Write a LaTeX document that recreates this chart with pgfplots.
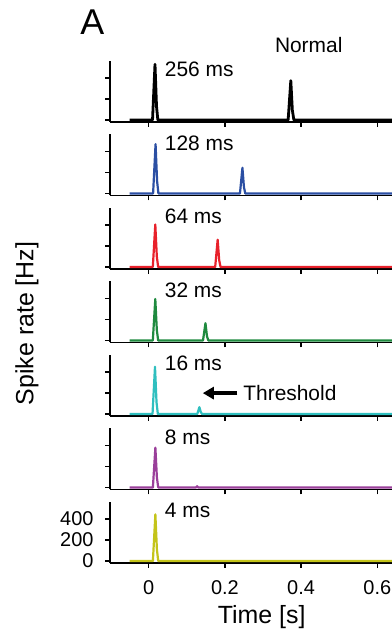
\documentclass[border=0pt]{standalone}
\usepackage{pgfplots}
\pgfplotsset{compat=1.18}
\usepackage{fontspec}
\setmainfont{Liberation Sans}
\usetikzlibrary{arrows.meta}
\definecolor{cblue}{RGB}{43,79,163}
\definecolor{cred}{RGB}{232,33,43}
\definecolor{cgreen}{RGB}{31,138,63}
\definecolor{ccyan}{RGB}{47,191,191}
\definecolor{cpurple}{RGB}{154,63,154}
\definecolor{cyellow}{RGB}{196,196,26}
\pgfplotsset{panel/.style={
  scale only axis, width=282bp, height=61bp, anchor=south west,
  xmin=-0.1016, xmax=0.6386, ymin=-19, ymax=562,
  axis x line=bottom, axis y line=left,
  axis line style={-, line width=1.5bp, black},
  xtick={0,0.2,0.4,0.6}, ytick={0,200,400},
  xticklabels={}, yticklabels={},
  tick align=outside, major tick length=5bp,
  tick style={line width=1.3bp, black},
  clip=false,
  /pgf/number format/assume math mode=true,
  ticklabel style={font=\fontsize{20}{24}\selectfont},
  xticklabel style={yshift=-9bp},
  yticklabel style={xshift=-8bp},
  every axis plot/.append style={line width=2.2bp, line join=round, mark=none},
}}
\newcommand{\lab}[1]{\node[anchor=west, font=\fontsize{21}{25}\selectfont, inner sep=0pt] at (axis cs:0.042,482) {#1};}
\begin{document}
\begin{tikzpicture}
\useasboundingbox (0,0) rectangle (392bp,633bp);
% 256 ms
\begin{axis}[panel, at={(110bp,511bp)}]
\addplot[black, line width=2.8bp] coordinates {(-0.05,0) (0.010,0) (0.0165,530) (0.0205,130) (0.024,0) (0.366,0) (0.373,375) (0.377,95) (0.381,0) (0.6386,0)};
\lab{256 ms}
\node[anchor=west, font=\fontsize{21}{25}\selectfont, inner sep=0pt] at (axis cs:0.331,714) {Normal};
\node[anchor=west, font=\fontsize{36}{40}\selectfont, inner sep=0pt] at (axis cs:-0.180,933) {A};
\end{axis}
% 128 ms
\begin{axis}[panel, at={(110bp,437.5bp)}]
\addplot[cblue] coordinates {(-0.05,0) (0.0115,0) (0.018,470) (0.022,118) (0.0255,0) (0.2395,0) (0.246,245) (0.250,60) (0.2535,0) (0.6386,0)};
\lab{128 ms}
\end{axis}
% 64 ms
\begin{axis}[panel, at={(110bp,364bp)}]
\addplot[cred] coordinates {(-0.05,0) (0.0108,0) (0.0173,405) (0.0213,100) (0.0248,0) (0.1745,0) (0.181,260) (0.185,65) (0.1885,0) (0.6386,0)};
\lab{64 ms}
\end{axis}
% 32 ms
\begin{axis}[panel, at={(110bp,290.5bp)}]
\addplot[cgreen] coordinates {(-0.05,0) (0.0108,0) (0.0173,395) (0.0213,100) (0.0248,0) (0.1425,0) (0.149,165) (0.153,40) (0.1565,0) (0.6386,0)};
\lab{32 ms}
\node[rotate=90, font=\fontsize{25}{30}\selectfont, inner sep=0pt] at (axis cs:-0.3194,162) {Spike rate [Hz]};
\end{axis}
% 16 ms
\begin{axis}[panel, at={(110bp,217bp)}]
\addplot[ccyan] coordinates {(-0.05,0) (0.010,0) (0.0165,450) (0.0205,112) (0.024,0) (0.1275,0) (0.133,65) (0.137,15) (0.1405,0) (0.6386,0)};
\lab{16 ms}
\draw[line width=3.5bp, -{Triangle[length=11bp,width=12bp]}] (axis cs:0.233,199) -- (axis cs:0.142,199);
\node[anchor=west, font=\fontsize{21}{25}\selectfont, inner sep=0pt] at (axis cs:0.248,199) {Threshold};
\end{axis}
% 8 ms
\begin{axis}[panel, at={(110bp,143.5bp)}]
\addplot[cpurple] coordinates {(-0.05,0) (0.011,0) (0.0175,380) (0.0215,95) (0.025,0) (0.124,0) (0.127,12) (0.130,0) (0.6386,0)};
\lab{8 ms}
\end{axis}
% 4 ms
\begin{axis}[panel, at={(110bp,70bp)}, xticklabels={0,0.2,0.4,0.6}, yticklabels={0,200,400}]
\addplot[cyellow] coordinates {(-0.05,0) (0.011,0) (0.0175,445) (0.0215,110) (0.025,0) (0.6386,0)};
\lab{4 ms}
\node[font=\fontsize{25}{30}\selectfont, inner sep=0pt] at (axis cs:0.2966,-530) {Time [s]};
\end{axis}
\end{tikzpicture}
\end{document}
